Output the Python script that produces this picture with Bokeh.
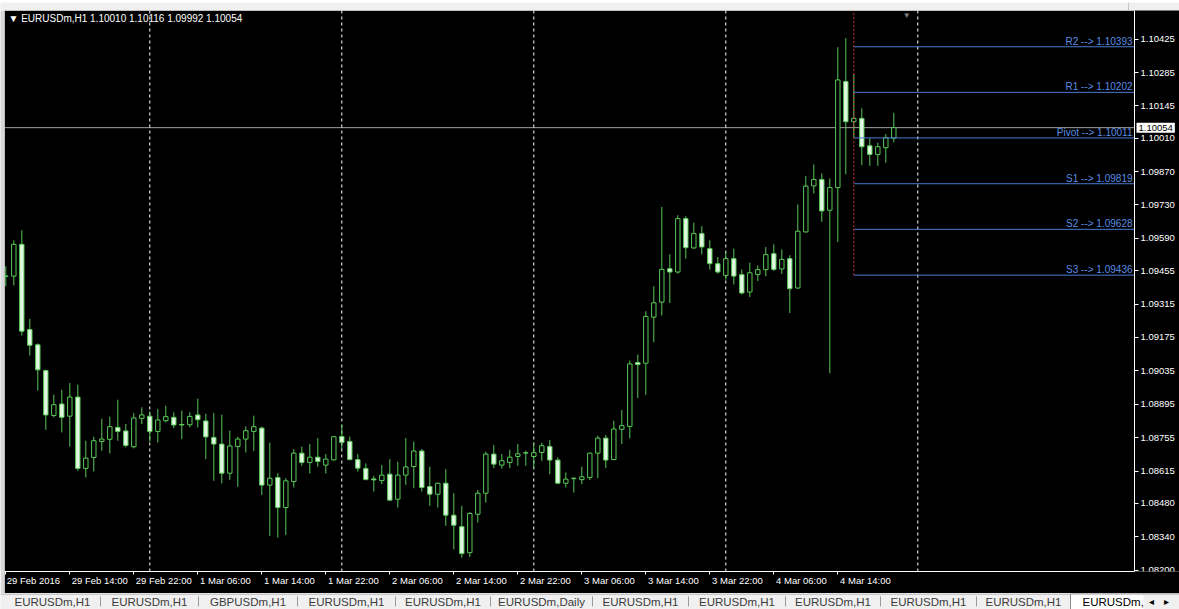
from datetime import datetime, timedelta
import numpy as np
from bokeh.plotting import figure
from bokeh.models import (Range1d, LinearAxis, FixedTicker, PrintfTickFormatter,
                          Span, Label, ColumnDataSource)
from bokeh.layouts import column, row
from bokeh.embed import file_html
from bokeh.resources import INLINE
from bokeh.core.properties import value

# ---------------- data ----------------
symbol = "EURUSDm,H1"
first_bar_time = datetime(2016, 2, 29, 6, 0)

opens = [1.09430, 1.09432, 1.09565, 1.09208, 1.09144, 1.09036, 1.08848, 1.08896, 1.08845, 1.08925,
         1.08626, 1.08672, 1.08739, 1.08748, 1.08798, 1.08783, 1.08717, 1.08836, 1.08845, 1.08781,
         1.08826, 1.08840, 1.08810, 1.08809, 1.08850, 1.08825, 1.08756, 1.08728, 1.08606, 1.08718,
         1.08749, 1.08781, 1.08795, 1.08556, 1.08588, 1.08462, 1.08571, 1.08690, 1.08651, 1.08673,
         1.08640, 1.08662, 1.08760, 1.08739, 1.08663, 1.08626, 1.08582, 1.08575, 1.08602, 1.08497,
         1.08598, 1.08634, 1.08699, 1.08550, 1.08518, 1.08564, 1.08430, 1.08382, 1.08273, 1.08434,
         1.08522, 1.08686, 1.08640, 1.08651, 1.08676, 1.08690, 1.08676, 1.08693, 1.08718, 1.08661,
         1.08564, 1.08583, 1.08579, 1.08588, 1.08690, 1.08753, 1.08663, 1.08790, 1.08802, 1.09070,
         1.09067, 1.09260, 1.09323, 1.09463, 1.09449, 1.09673, 1.09550, 1.09610, 1.09547, 1.09484,
         1.09435, 1.09505, 1.09438, 1.09365, 1.09439, 1.09459, 1.09526, 1.09462, 1.09505, 1.09382,
         1.09617, 1.09810, 1.09837, 1.09708, 1.09803, 1.10247, 1.10079, 1.10093, 1.09978, 1.09942,
         1.09970, 1.10010]
highs = [1.09473, 1.09582, 1.09624, 1.09253, 1.09150, 1.09040, 1.08935, 1.08955, 1.08984, 1.08977,
         1.08742, 1.08759, 1.08834, 1.08843, 1.08914, 1.08812, 1.08858, 1.08882, 1.08865, 1.08875,
         1.08889, 1.08861, 1.08868, 1.08861, 1.08918, 1.08855, 1.08858, 1.08851, 1.08784, 1.08759,
         1.08802, 1.08847, 1.08801, 1.08734, 1.08606, 1.08585, 1.08707, 1.08717, 1.08728, 1.08753,
         1.08686, 1.08762, 1.08809, 1.08759, 1.08686, 1.08647, 1.08595, 1.08640, 1.08665, 1.08654,
         1.08753, 1.08738, 1.08707, 1.08633, 1.08566, 1.08623, 1.08522, 1.08469, 1.08444, 1.08536,
         1.08696, 1.08724, 1.08686, 1.08704, 1.08728, 1.08700, 1.08734, 1.08734, 1.08745, 1.08672,
         1.08609, 1.08588, 1.08633, 1.08692, 1.08763, 1.08766, 1.08826, 1.08871, 1.09078, 1.09103,
         1.09285, 1.09389, 1.09722, 1.09523, 1.09687, 1.09683, 1.09656, 1.09641, 1.09582, 1.09512,
         1.09533, 1.09547, 1.09460, 1.09488, 1.09477, 1.09554, 1.09565, 1.09544, 1.09519, 1.09732,
         1.09851, 1.09900, 1.09862, 1.09841, 1.10391, 1.10429, 1.10279, 1.10135, 1.10009, 1.09991,
         1.10027, 1.10116]
lows = [1.09389, 1.09393, 1.09183, 1.09099, 1.08952, 1.08788, 1.08840, 1.08777, 1.08717, 1.08616,
        1.08588, 1.08613, 1.08700, 1.08689, 1.08742, 1.08714, 1.08710, 1.08812, 1.08738, 1.08735,
        1.08819, 1.08795, 1.08749, 1.08798, 1.08798, 1.08665, 1.08574, 1.08563, 1.08578, 1.08549,
        1.08693, 1.08699, 1.08515, 1.08343, 1.08336, 1.08347, 1.08546, 1.08637, 1.08605, 1.08633,
        1.08605, 1.08658, 1.08707, 1.08660, 1.08613, 1.08577, 1.08529, 1.08560, 1.08490, 1.08462,
        1.08557, 1.08543, 1.08529, 1.08469, 1.08462, 1.08385, 1.08287, 1.08252, 1.08255, 1.08399,
        1.08483, 1.08627, 1.08626, 1.08627, 1.08637, 1.08637, 1.08627, 1.08658, 1.08602, 1.08560,
        1.08546, 1.08525, 1.08560, 1.08577, 1.08585, 1.08627, 1.08661, 1.08728, 1.08752, 1.08921,
        1.08934, 1.09155, 1.09267, 1.09319, 1.09442, 1.09505, 1.09546, 1.09523, 1.09459, 1.09442,
        1.09417, 1.09397, 1.09355, 1.09344, 1.09411, 1.09431, 1.09453, 1.09441, 1.09277, 1.09379,
        1.09615, 1.09778, 1.09659, 1.09025, 1.09575, 1.09859, 1.10013, 1.09897, 1.09894, 1.09894,
        1.09907, 1.09992]
closes = [1.09433, 1.09565, 1.09201, 1.09142, 1.09039, 1.08850, 1.08893, 1.08840, 1.08925, 1.08626,
          1.08669, 1.08742, 1.08749, 1.08801, 1.08781, 1.08722, 1.08837, 1.08850, 1.08781, 1.08829,
          1.08843, 1.08808, 1.08808, 1.08844, 1.08830, 1.08758, 1.08728, 1.08606, 1.08720, 1.08749,
          1.08784, 1.08801, 1.08556, 1.08585, 1.08462, 1.08574, 1.08690, 1.08651, 1.08673, 1.08655,
          1.08665, 1.08759, 1.08735, 1.08663, 1.08627, 1.08579, 1.08578, 1.08598, 1.08493, 1.08598,
          1.08632, 1.08699, 1.08546, 1.08518, 1.08564, 1.08430, 1.08388, 1.08269, 1.08437, 1.08522,
          1.08686, 1.08644, 1.08658, 1.08673, 1.08687, 1.08692, 1.08692, 1.08721, 1.08661, 1.08564,
          1.08581, 1.08585, 1.08591, 1.08690, 1.08753, 1.08661, 1.08791, 1.08805, 1.09064, 1.09061,
          1.09263, 1.09320, 1.09460, 1.09449, 1.09673, 1.09551, 1.09610, 1.09554, 1.09484, 1.09449,
          1.09505, 1.09432, 1.09361, 1.09446, 1.09459, 1.09522, 1.09460, 1.09502, 1.09379, 1.09620,
          1.09809, 1.09837, 1.09705, 1.09803, 1.10254, 1.10079, 1.10093, 1.09974, 1.09942, 1.09974,
          1.10012, 1.10054]

pivot_names = ["R2", "R1", "Pivot", "S1", "S2", "S3"]
pivot_levels = [1.10393, 1.10202, 1.10011, 1.09819, 1.09628, 1.09436]
pivot_start_bar = 106
bid_price = 1.10054
price_ticks = [1.08200, 1.08340, 1.08480, 1.08615, 1.08755, 1.08895, 1.09035, 1.09175, 1.09315,
               1.09455, 1.09590, 1.09730, 1.09870, 1.10010, 1.10145, 1.10285, 1.10425]
time_label_step = 8
shift_marker_bar = 112.6

tab_labels = ["EURUSDm,H1", "EURUSDm,H1", "GBPUSDm,H1", "EURUSDm,H1", "EURUSDm,H1",
              "EURUSDm,Daily", "EURUSDm,H1", "EURUSDm,H1", "EURUSDm,H1", "EURUSDm,H1", "EURUSDm,H1"]
active_tab = "EURUSDm,H1"

# ---------------- styling / layout ----------------
W = 1179
TOP_H = 10
MAIN_H = 583
TAB_H = 16
LEFT_PAD = 4            # window border left of the chart
FONT = "Liberation Sans"
GREEN = "#58c858"
BEAR_FILL = "#e2f8e2"
PIVOT_BLUE = "#4a7cd2"
PIVOT_TEXT = "#5a8de0"
PX_PER_BAR = 8.0
FIRST_BAR_PX = 1.3      # first bar centre, px right of the chart's left edge
PRICE_SCALE_PX = 1130   # width of the chart area up to the price scale
X_START = -FIRST_BAR_PX / PX_PER_BAR
PRICE_AXIS_X = X_START + PRICE_SCALE_PX / PX_PER_BAR
X_END = X_START + (W - LEFT_PAD) / PX_PER_BAR
Y_START, Y_END = 1.08194, 1.10545

n = len(opens)
o = np.array(opens); h = np.array(highs); l = np.array(lows); c = np.array(closes)
bars = np.arange(n)
bull = c > o
src = ColumnDataSource(dict(
    x=bars, h=h, l=l,
    top=np.maximum(o, c), bottom=np.minimum(o, c),
    fill=["#000000" if b else BEAR_FILL for b in bull],
))

p = figure(width=W - LEFT_PAD, height=MAIN_H, x_range=Range1d(X_START, X_END),
           y_range=Range1d(Y_START, Y_END),
           x_axis_location=None, y_axis_location=None,
           toolbar_location=None, output_backend="svg",
           background_fill_color="#000000", border_fill_color="#000000",
           min_border_left=0, min_border_top=0, min_border_right=0, min_border_bottom=22,
           outline_line_color=None)
p.grid.visible = False

# day separators (bars at 00:00), up to one day past the last bar
for k in range(n + 24):
    t = first_bar_time + timedelta(hours=k)
    if t.hour == 0:
        p.add_layout(Span(location=k, dimension="height", line_color="#ffffff",
                          line_dash="3 3", line_width=1, level="underlay"))

# bid line
p.segment(x0=[X_START], x1=[PRICE_AXIS_X], y0=[bid_price], y1=[bid_price],
          line_color="#a0a0a0", line_width=1, level="underlay")

# candles
p.segment(x0="x", y0="h", x1="x", y1="l", source=src, line_color=GREEN, line_width=1)
p.vbar(x="x", width=0.55, top="top", bottom="bottom", fill_color="fill",
       line_color=GREEN, line_width=1, source=src)

# pivot lines
m = len(pivot_levels)
p.segment(x0=[pivot_start_bar] * m, x1=[PRICE_AXIS_X] * m,
          y0=pivot_levels, y1=pivot_levels, line_color=PIVOT_BLUE, line_width=1)
p.segment(x0=[pivot_start_bar], x1=[pivot_start_bar], y0=[min(pivot_levels)], y1=[Y_END],
          line_color="#d03434", line_dash="2 2", line_width=1)
p.text(x=[PRICE_AXIS_X] * m, y=pivot_levels,
       text=[f"{nm} --> {lv:.5f}" for nm, lv in zip(pivot_names, pivot_levels)],
       text_align="right", text_baseline="bottom", x_offset=-2,
       text_color=PIVOT_TEXT, text_font_size="10px", text_font=value(FONT))

# header
p.add_layout(Label(x=4, y=Y_END, x_units="screen", y_offset=-8,
                   text=f"\u25BC {symbol}  {opens[-1]:.5f} {highs[-1]:.5f} {lows[-1]:.5f} {closes[-1]:.5f}",
                   text_color="#ffffff", text_font_size="10px", text_font=FONT,
                   text_baseline="middle", text_align="left"))
# chart shift marker
p.add_layout(Label(x=shift_marker_bar, y=Y_END, text="\u25BC", text_color="#808080",
                   text_font_size="8px", text_align="center", text_baseline="top", y_offset=0))

# frame edges (left / top) as plain axis lines
la_left = LinearAxis(fixed_location=X_START, ticker=FixedTicker(ticks=[]),
                     axis_line_color="#ffffff", major_tick_line_color=None,
                     minor_tick_line_color=None)
p.add_layout(la_left, "left")
la_top = LinearAxis(fixed_location=Y_END, ticker=FixedTicker(ticks=[]), bounds=(X_START, PRICE_AXIS_X),
                    axis_line_color="#ffffff", major_tick_line_color=None,
                    minor_tick_line_color=None)
p.add_layout(la_top, "above")

# price axis (right side of the chart area)
ya = LinearAxis(fixed_location=PRICE_AXIS_X, ticker=FixedTicker(ticks=price_ticks),
                formatter=PrintfTickFormatter(format="%.5f"))
ya.axis_line_color = "#ffffff"
ya.major_tick_line_color = "#ffffff"
ya.major_tick_out = 4
ya.major_tick_in = 0
ya.minor_tick_line_color = None
ya.major_label_text_color = "#ffffff"
ya.major_label_text_font = FONT
ya.major_label_text_font_size = "9.5px"
ya.major_label_standoff = 2
p.add_layout(ya, "right")

# current price box on the price scale
p.add_layout(Label(x=PRICE_AXIS_X, y=bid_price, x_offset=2, text=f"{bid_price:.5f}",
                   text_color="#000000", text_font_size="9.5px", text_font=FONT,
                   text_baseline="middle", text_align="left",
                   background_fill_color="#ffffff", padding=2))

# time axis: left-aligned labels, tick marks at the bars
label_bars = list(range(0, n, time_label_step))
time_labels = []
for k in label_bars:
    t = first_bar_time + timedelta(hours=k)
    time_labels.append(f"{t.day} {t:%b} {t.year}" if k == 0 else f"{t.day} {t:%b} {t:%H:%M}")
label_pos = [k + (2 + 0.49 * 9.5 * len(s) / 2) / PX_PER_BAR for k, s in zip(label_bars, time_labels)]
xa = LinearAxis(ticker=FixedTicker(ticks=label_pos, minor_ticks=label_bars),
                major_label_overrides={pos: s for pos, s in zip(label_pos, time_labels)},
                bounds=(X_START, PRICE_AXIS_X))
xa.axis_line_color = "#ffffff"
xa.major_tick_line_color = None
xa.major_tick_out = 0
xa.major_tick_in = 0
xa.minor_tick_line_color = "#ffffff"
xa.minor_tick_out = 3
xa.minor_tick_in = 0
xa.major_label_text_color = "#ffffff"
xa.major_label_text_font = FONT
xa.major_label_text_font_size = "9.5px"
xa.major_label_standoff = 0
p.add_layout(xa, "below")

# ---------------- window borders ----------------
def strip(width, height, color):
    f = figure(width=width, height=height, x_range=Range1d(0, max(width, 1)),
               y_range=Range1d(0, max(height, 1)), toolbar_location=None, output_backend="svg",
               x_axis_location=None, y_axis_location=None, min_border=0, outline_line_color=None,
               background_fill_color=color, border_fill_color=color)
    f.grid.visible = False
    return f

top = strip(W, TOP_H, "#f0f0f0")
top.segment(x0=[1128], x1=[1128], y0=[0], y1=[TOP_H], line_color="#c8c8c8")
left = strip(LEFT_PAD, MAIN_H, "#d8d8d8")

# ---------------- tab bar ----------------
tb = strip(W, TAB_H, "#f0f0f0")
tab_edges = np.array([4, 100, 198, 297, 395, 490, 592, 688, 785, 880, 976, 1070])
centers = (tab_edges[:-1] + tab_edges[1:]) / 2
tb.text(x=centers, y=[TAB_H / 2] * len(tab_labels), text=tab_labels, text_align="center",
        text_baseline="middle", text_color="#3c3c3c", text_font_size="11.5px",
        text_font=value(FONT))
tb.segment(x0=tab_edges[1:-1], x1=tab_edges[1:-1], y0=[3] * (len(tab_edges) - 2),
           y1=[13] * (len(tab_edges) - 2), line_color="#9a9a9a")
act_left = tab_edges[-1]
tb.quad(left=[act_left], right=[W + 2], bottom=[-1], top=[TAB_H], fill_color="#ffffff",
        line_color="#8c8c8c")
tb.text(x=[act_left + 12], y=[TAB_H / 2], text=[active_tab], text_align="left",
        text_baseline="middle", text_color="#000000", text_font_size="11.5px",
        text_font=value(FONT))
tb.quad(left=[W - 36], right=[W + 2], bottom=[0], top=[TAB_H - 1], fill_color="#f0f0f0",
        line_color=None)
tb.text(x=[W - 28, W - 13], y=[TAB_H / 2, TAB_H / 2], text=["\u25C2", "\u25B8"],
        text_align="center", text_baseline="middle", text_color="#000000", text_font_size="10px")
tb.add_layout(Span(location=TAB_H - 0.5, dimension="width", line_color="#a0a0a0", line_width=1))

layout = column(top, row(left, p, spacing=0), tb, spacing=0)
open("out.html", "w").write(file_html(layout, INLINE))
